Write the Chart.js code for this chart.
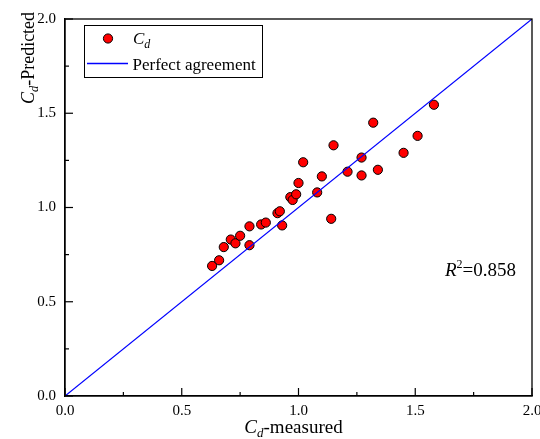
<!DOCTYPE html>
<html>
<head>
<meta charset="utf-8">
<script src="https://cdn.jsdelivr.net/npm/chart.js@4/dist/chart.umd.min.js"></script>
<style>
html,body{margin:0;padding:0;background:#fff;}
#wrap{width:540px;height:439px;}
</style>
</head>
<body>
<div id="wrap"><canvas id="c" width="540" height="439"></canvas></div>
<script>
// Data
const measured  = [0.63,0.66,0.68,0.71,0.73,0.75,0.79,0.79,0.84,0.86,0.91,0.92,0.93,0.965,0.975,0.99,1.00,1.02,1.08,1.10,1.14,1.15,1.21,1.27,1.27,1.32,1.34,1.45,1.51,1.58];
const predicted = [0.69,0.72,0.79,0.83,0.81,0.85,0.90,0.80,0.91,0.92,0.97,0.98,0.905,1.055,1.04,1.07,1.13,1.24,1.08,1.165,0.94,1.33,1.19,1.265,1.17,1.45,1.20,1.29,1.38,1.545];
const perfectLine = [0, 2];
const tickValues = [0, 0.5, 1.0, 1.5, 2.0];
const r2Value = "0.858";

const FONT = "'Liberation Serif','Times New Roman',serif";

const scatterData = measured.map((m, i) => ({x: m, y: predicted[i]}));
const lineData = perfectLine.map(v => ({x: v, y: v}));

const CA = {left: 65, right: 532, top: 19, bottom: 396};

function drawRich(ctx, parts, x, y, align) {
  let total = 0;
  parts.forEach(p => {
    ctx.font = (p.italic ? 'italic ' : '') + p.size + 'px ' + FONT;
    p.w = ctx.measureText(p.t).width;
    total += p.w;
  });
  let cx = align === 'center' ? x - total / 2 : x;
  ctx.textBaseline = 'alphabetic';
  ctx.textAlign = 'left';
  parts.forEach(p => {
    ctx.font = (p.italic ? 'italic ' : '') + p.size + 'px ' + FONT;
    ctx.fillText(p.t, cx, y + (p.dy || 0));
    cx += p.w;
  });
}

const decor = {
  id: 'decor',
  afterDraw(chart) {
    const ctx = chart.ctx;
    const xs = chart.scales.x, ys = chart.scales.y;
    const a = chart.chartArea;
    ctx.save();
    ctx.strokeStyle = '#000';
    ctx.lineWidth = 1.3;
    ctx.strokeRect(a.left, a.top, a.right - a.left, a.bottom - a.top);
    ctx.lineWidth = 1.2;
    for (let k = 0; k <= 8; k++) {
      const v = k * 0.25;
      const len = (k % 2 === 0) ? 8 : 4;
      const px = xs.getPixelForValue(v);
      ctx.beginPath(); ctx.moveTo(px, a.bottom); ctx.lineTo(px, a.bottom - len); ctx.stroke();
      const py = ys.getPixelForValue(v);
      ctx.beginPath(); ctx.moveTo(a.left, py); ctx.lineTo(a.left + len, py); ctx.stroke();
    }
    ctx.fillStyle = '#000';
    drawRich(ctx, [
      {t: 'C', size: 19, italic: true},
      {t: 'd', size: 13, italic: true, dy: 4},
      {t: '-measured', size: 19}
    ], (a.left + a.right) / 2 - 5, 433, 'center');
    ctx.save();
    ctx.translate(34, 58);
    ctx.rotate(-Math.PI / 2);
    drawRich(ctx, [
      {t: 'C', size: 18, italic: true},
      {t: 'd', size: 12.5, italic: true, dy: 4},
      {t: '-Predicted', size: 18}
    ], 0, 0, 'center');
    ctx.restore();
    drawRich(ctx, [
      {t: 'R', size: 19, italic: true},
      {t: '2', size: 12, dy: -8},
      {t: '=' + r2Value, size: 19}
    ], 445, 276, 'left');
    ctx.fillStyle = '#fff';
    ctx.fillRect(84, 25, 179, 53);
    ctx.strokeStyle = '#000';
    ctx.lineWidth = 1;
    ctx.strokeRect(84.5, 25.5, 178, 52);
    ctx.beginPath();
    ctx.arc(108, 38.5, 4.6, 0, Math.PI * 2);
    ctx.fillStyle = '#ff0000';
    ctx.fill();
    ctx.strokeStyle = '#000';
    ctx.stroke();
    ctx.strokeStyle = '#0000ff';
    ctx.lineWidth = 1.3;
    ctx.beginPath(); ctx.moveTo(87, 63.5); ctx.lineTo(128, 63.5); ctx.stroke();
    ctx.fillStyle = '#000';
    drawRich(ctx, [
      {t: 'C', size: 17, italic: true},
      {t: 'd', size: 12, italic: true, dy: 4}
    ], 133, 43.5, 'left');
    drawRich(ctx, [{t: 'Perfect agreement', size: 17}], 132.5, 70, 'left');
    ctx.restore();
  }
};

new Chart(document.getElementById('c'), {
  data: {
    datasets: [
      {
        type: 'line',
        label: 'Perfect agreement',
        data: lineData,
        borderColor: '#0000ff',
        borderWidth: 1.2,
        pointRadius: 0,
        fill: false,
        order: 0
      },
      {
        type: 'scatter',
        label: 'Cd',
        data: scatterData,
        backgroundColor: '#ff0000',
        borderColor: '#000000',
        borderWidth: 1,
        pointRadius: 4.6,
        order: 1
      }
    ]
  },
  options: {
    responsive: false,
    animation: false,
    devicePixelRatio: 1,
    layout: {padding: {left: 0, top: CA.top, right: 540 - CA.right, bottom: 0}},
    plugins: {legend: {display: false}, tooltip: {enabled: false}},
    scales: {
      x: {
        type: 'linear', min: 0, max: 2,
        grid: {display: false, drawTicks: false},
        border: {display: true, color: '#000', width: 1.3},
        afterBuildTicks: s => { s.ticks = tickValues.map(v => ({value: v})); },
        ticks: {
          color: '#000', padding: 6,
          font: {family: FONT, size: 15},
          maxRotation: 0, autoSkip: false,
          callback: v => Number(v).toFixed(1)
        },
        afterFit: s => { s.height = 439 - CA.bottom; s.paddingLeft = 0; s.paddingRight = 0; }
      },
      y: {
        type: 'linear', min: 0, max: 2,
        grid: {display: false, drawTicks: false},
        border: {display: true, color: '#000', width: 1.3},
        afterBuildTicks: s => { s.ticks = tickValues.map(v => ({value: v})); },
        ticks: {
          color: '#000', padding: 9,
          font: {family: FONT, size: 15},
          autoSkip: false,
          callback: v => Number(v).toFixed(1)
        },
        afterFit: s => { s.width = CA.left; s.paddingTop = 0; s.paddingBottom = 0; }
      }
    }
  },
  plugins: [decor]
});
</script>
</body>
</html>
